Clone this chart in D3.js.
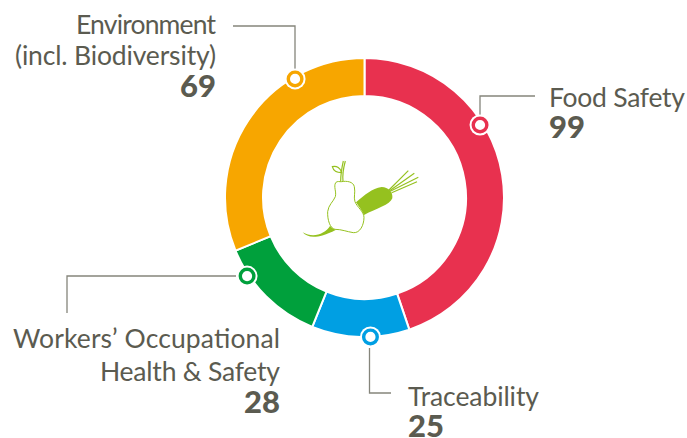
<!DOCTYPE html>
<html lang="en">
<head>
    <meta charset="UTF-8">
    <script src="https://d3js.org/d3.v7.min.js"></script>
    <style>
        html, body { margin: 0; padding: 0; background: #fff; overflow: hidden; }
        .name { font-family: Lato, sans-serif; font-weight: 400; font-size: 26.5px; fill: #5b5b50; }
        .num { font-family: Lato, sans-serif; font-weight: 900; font-size: 31px; fill: #5b5b50; }
        .leader { fill: none; stroke: #85857b; stroke-width: 1.3px; }
        .icon-line { fill: none; stroke: #95c11f; stroke-width: 3.5px; }
    </style>
</head>
<body>
    <div id="chart"></div>

    <script>
        const categories = ["Food Safety", "Traceability", "Workers’ Occupational|Health & Safety", "Environment|(incl. Biodiversity)"];
        const values = [99, 25, 28, 69];
        const colors = ["#e8314f", "#009fe3", "#00a03c", "#f7a600"];

        const width = 687, height = 438;
        const cx = 364.5, cy = 197.5, outerR = 139.5, innerR = 101.5;

        // where the marker sits inside its slice (0-1), how far from centre, then leader and label placement
        const markerAt = [0.359, 0.40, 0.75, 0.73];
        const markerR = [136.4, 139.6, 141.3, 137.4];
        const leaders = [
            [[480, 117], [480, 96], [535, 96]],
            [[369.5, 348], [369.5, 393], [391, 393]],
            [[236, 276], [67, 276], [67, 313]],
            [[295, 70], [295, 26], [233, 26]]
        ];
        const labels = [
            { x: 549, anchor: "start", lines: [107], widths: [136], num: 138 },
            { x: 408, anchor: "start", lines: [406], widths: [131], num: 437 },
            { x: 280, anchor: "end", lines: [348, 381], widths: [267, 180], num: 413 },
            { x: 216, anchor: "end", lines: [34, 65], widths: [140, 201], num: 97 }
        ];

        const svg = d3.select("#chart").append("svg")
            .attr("width", width)
            .attr("height", height);

        const pie = d3.pie().value(d => d).sort(null);
        const arc = d3.arc().innerRadius(innerR).outerRadius(outerR);
        const arcs = pie(values);

        const donut = svg.append("g").attr("transform", `translate(${cx},${cy})`);

        donut.selectAll("path")
            .data(arcs)
            .enter().append("path")
            .attr("d", arc)
            .attr("fill", (d, i) => colors[i])
            .attr("stroke", "#fff")
            .attr("stroke-width", 2);

        svg.selectAll(".leader")
            .data(leaders)
            .enter().append("path")
            .attr("class", "leader")
            .attr("d", d3.line());

        arcs.forEach((d, i) => {
            const a = d.startAngle + (d.endAngle - d.startAngle) * markerAt[i];
            const px = cx + Math.sin(a) * markerR[i];
            const py = cy - Math.cos(a) * markerR[i];
            svg.append("circle").attr("cx", px).attr("cy", py).attr("r", 10.5).attr("fill", "#fff");
            svg.append("circle").attr("cx", px).attr("cy", py).attr("r", 6.8)
                .attr("fill", "#fff").attr("stroke", colors[i]).attr("stroke-width", 3.4);
        });

        labels.forEach((l, i) => {
            categories[i].split("|").forEach((t, j) => {
                svg.append("text").attr("class", "name")
                    .attr("x", l.x).attr("y", l.lines[j])
                    .attr("text-anchor", l.anchor)
                    .attr("textLength", l.widths[j])
                    .attr("lengthAdjust", "spacing")
                    .text(t);
            });
            svg.append("text").attr("class", "num")
                .attr("x", l.x).attr("y", l.num)
                .attr("text-anchor", l.anchor).text(values[i]);
        });

        // pear and carrot in the middle
        const icon = svg.append("g").attr("transform", "translate(290,140) scale(0.3333)");
        const green = "#95c11f";

        icon.append("path").attr("fill", green)
            .attr("d", "M38,277 C55,296 85,296 137,270 L120,258 C105,282 70,295 38,277 Z");
        icon.append("path").attr("fill", green)
            .attr("d", "M198,187 C225,165 245,145 275,141 C295,142 310,155 307,175 C300,195 260,205 222,225 C215,210 205,198 198,187 Z");
        icon.append("path").attr("fill", "#fff").attr("stroke", green).attr("stroke-width", 3)
            .attr("d", "M155,125 C170,122 190,125 193,140 C197,160 190,170 195,185 C200,200 222,215 222,232 C222,255 210,280 190,278 C170,275 155,268 135,268 C120,265 112,240 113,215 C115,195 130,185 136,170 C140,155 130,140 137,128 C142,122 150,126 155,125 Z");
        [
            "M152,125 C152,105 155,85 160,63",
            "M159,125 C157,105 160,85 166,63",
            "M127,80 C140,76 152,85 155,98 C140,98 130,92 127,80 Z",
            "M297,150 L355,92",
            "M299,152 L373,100",
            "M301,154 L385,112",
            "M305,158 L381,125"
        ].forEach(d => icon.append("path").attr("class", "icon-line").attr("d", d));
    </script>
</body>
</html>
